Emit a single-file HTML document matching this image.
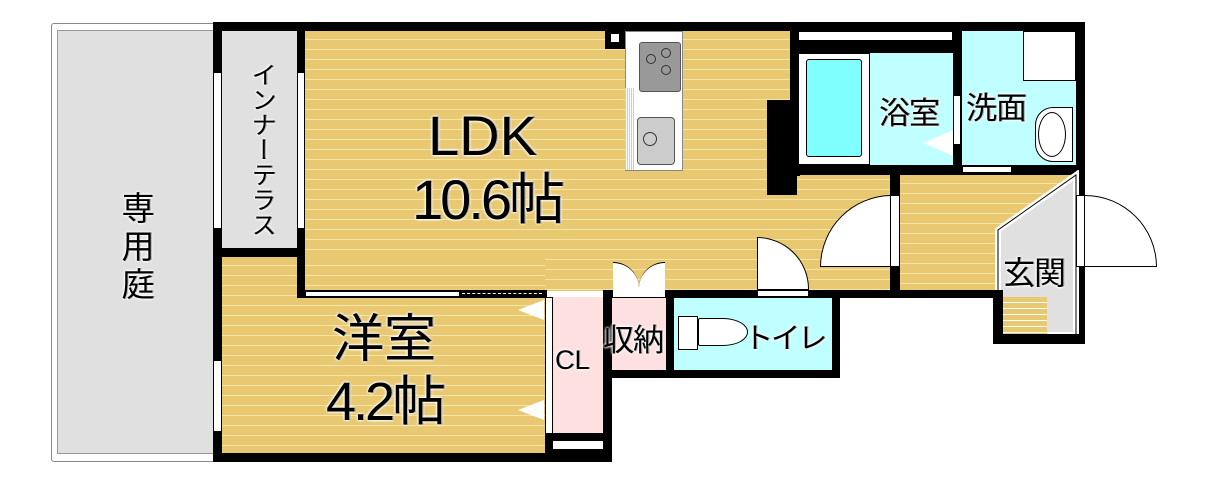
<!DOCTYPE html>
<html><head><meta charset="utf-8"><style>
body{margin:0;width:1212px;height:479px;background:#fff;position:relative;overflow:hidden;font-family:"Liberation Sans","Noto Sans CJK JP",sans-serif}
div{position:absolute;box-sizing:border-box}
.b{background:#000}
.y{background:repeating-linear-gradient(180deg,#e8c870 0 8px,#f6e3a6 8px 9px,#e8c870 9px 10px)}
.t{color:#000;text-shadow:0 0 3px #fff,0 0 3px #fff,0 0 2px #fff,1px 0 0 #000;white-space:nowrap}
.w{background:#fff;border:1px solid #000}
</style></head><body>
<!-- garden -->
<div style="left:51px;top:23px;width:170px;height:439px;border:1px solid #888;border-radius:3px;background:#fff"></div>
<div style="left:57px;top:30px;width:160px;height:424px;background:#e0e0e0;border:1px solid #999"></div>
<div class="t" style="left:118px;top:190px;font-size:33px;line-height:38px;width:40px;text-align:center">専<br>用<br>庭</div>
<!-- yellows first -->
<div class="y" style="left:305px;top:31px;width:590px;height:260px"></div>
<div class="y" style="left:222px;top:257px;width:323px;height:196px"></div>
<div class="y" style="left:900px;top:175px;width:176px;height:115px"></div>
<!-- outer walls -->
<div class="b" style="left:213px;top:22px;width:872px;height:9px"></div>
<div class="b" style="left:213px;top:22px;width:9px;height:440px"></div>
<div class="b" style="left:213px;top:453px;width:398px;height:9px"></div>
<div class="b" style="left:1076px;top:22px;width:9px;height:322px"></div>
<!-- terrace -->
<div style="left:222px;top:31px;width:76px;height:218px;background:#e0e0e0"></div>
<div class="b" style="left:213px;top:248px;width:92px;height:9px"></div>
<div class="b" style="left:297px;top:31px;width:8px;height:267px"></div>
<div class="t" style="left:243px;top:62px;font-size:25px;line-height:26px;width:32px;text-align:center;writing-mode:vertical-rl">インナーテラス</div>
<!-- windows -->
<div class="w" style="left:213px;top:72px;width:9px;height:157px"></div>
<div class="w" style="left:297px;top:72px;width:8px;height:157px"></div>
<div class="w" style="left:213px;top:360px;width:9px;height:72px"></div>
<!-- partition LDK/洋室 -->
<div class="b" style="left:297px;top:290px;width:250px;height:8px"></div>
<div class="w" style="left:305px;top:291px;width:155px;height:6px"></div>
<div style="left:462px;top:293px;width:80px;height:2px;border-top:1px dashed #fff"></div>
<div class="b" style="left:605px;top:31px;width:20px;height:18px"></div>
<div style="left:611px;top:34px;width:8px;height:8px;background:#fff"></div>
<!-- kitchen -->
<div style="left:625px;top:31px;width:58px;height:140px;background:#fff;border:1px solid #888"></div>
<div style="left:625px;top:88px;width:9px;height:82px;background:repeating-linear-gradient(90deg,#ccc 0 1px,#fff 1px 2px)"></div>
<div style="left:639px;top:42px;width:42px;height:50px;background:#999;border:1px solid #555;border-radius:3px"></div>
<div style="left:646px;top:54px;width:10px;height:10px;border:1px solid #333;border-radius:50%"></div>
<div style="left:661px;top:48px;width:10px;height:10px;border:1px solid #333;border-radius:50%"></div>
<div style="left:661px;top:65px;width:10px;height:10px;border:1px solid #333;border-radius:50%"></div>
<div style="left:637px;top:117px;width:38px;height:48px;background:#ccc;border:1px solid #555;border-radius:4px"></div>
<div style="left:643px;top:132px;width:14px;height:14px;border:1px solid #333;border-radius:50%"></div>
<div class="t" style="left:428px;top:106px;font-size:56px;line-height:60px">LDK</div>
<div class="t" style="left:412px;top:168px;font-size:56px;line-height:64px;letter-spacing:-3px">10.6帖</div>
<div class="t" style="left:332px;top:312px;font-size:52px;line-height:56px">洋室</div>
<div class="t" style="left:326px;top:370px;font-size:54px;line-height:64px;letter-spacing:-3px">4.2帖</div>
<!-- CL -->
<div style="left:545px;top:297px;width:60px;height:137px;background:#ffe0e0"></div>
<div class="w" style="left:545px;top:297px;width:8px;height:137px"></div>
<div class="b" style="left:545px;top:433px;width:66px;height:29px"></div>
<div style="left:553px;top:441px;width:50px;height:8px;background:#fff"></div>
<div class="b" style="left:603px;top:297px;width:9px;height:165px"></div>
<div class="t" style="left:555px;top:345px;font-size:27px">CL</div>
<div style="left:518px;top:300px;width:0;height:0;border-top:10px solid transparent;border-bottom:10px solid transparent;border-right:26px solid #fff"></div>
<div style="left:518px;top:400px;width:0;height:0;border-top:10px solid transparent;border-bottom:10px solid transparent;border-right:26px solid #fff"></div>
<!-- LDK bottom wall right -->
<div class="b" style="left:603px;top:290px;width:398px;height:8px"></div>
<div style="left:613px;top:290px;width:52px;height:7px;background:#fff"></div>
<div style="left:757px;top:290px;width:52px;height:7px;background:#fff;border:1px solid #000"></div>
<!-- 収納 / toilet -->
<div style="left:612px;top:298px;width:56px;height:72px;background:#ffe0e0"></div>
<div class="b" style="left:666px;top:298px;width:8px;height:80px"></div>
<div style="left:674px;top:298px;width:158px;height:72px;background:#c0ffff"></div>
<div class="b" style="left:603px;top:370px;width:237px;height:8px"></div>
<div class="b" style="left:832px;top:290px;width:8px;height:88px"></div>
<div class="t" style="left:603px;top:315px;font-size:31px;letter-spacing:-1px">収納</div>
<div style="left:678px;top:316px;width:20px;height:34px;background:#fff;border:1px solid #000"></div>
<div style="left:698px;top:318px;width:50px;height:28px;background:#fff;border:1px solid #000;border-radius:2px 50% 50% 2px"></div>
<div class="t" style="left:744px;top:315px;font-size:29px;letter-spacing:-2px">トイレ</div>
<!-- door arcs -->
<div style="left:757px;top:237px;width:52px;height:53px;background:#fff;border:1px solid #000;border-radius:0 52px 0 0"></div>
<div style="left:820px;top:195px;width:72px;height:72px;background:#fff;border:1px solid #000;border-radius:72px 0 0 0"></div>
<div style="left:613px;top:262px;width:26px;height:28px;background:#fff;border-top:1px solid #000;border-radius:0 26px 0 0"></div>
<div style="left:639px;top:262px;width:26px;height:28px;background:#fff;border-top:1px solid #000;border-radius:26px 0 0 0"></div>
<!-- bath block -->
<div class="b" style="left:767px;top:100px;width:30px;height:95px"></div>
<div class="b" style="left:790px;top:31px;width:10px;height:145px"></div>
<div style="left:798px;top:31px;width:155px;height:10px;background:#fff;border:1px solid #000"></div>
<div class="b" style="left:798px;top:41px;width:160px;height:12px"></div>
<div style="left:798px;top:53px;width:72px;height:112px;background:#fff;border:1px solid #000"></div>
<div style="left:806px;top:59px;width:56px;height:98px;background:#80ffff;border:1px solid #000;border-radius:3px"></div>
<div style="left:870px;top:53px;width:84px;height:112px;background:#c0ffff"></div>
<div class="t" style="left:879px;top:88px;font-size:31px;letter-spacing:-1px">浴室</div>
<div style="left:923px;top:130px;width:0;height:0;border-top:13px solid transparent;border-bottom:13px solid transparent;border-right:30px solid #fff"></div>
<div class="b" style="left:953px;top:31px;width:9px;height:144px"></div>
<div style="left:953px;top:95px;width:8px;height:50px;background:#fff;border:1px solid #000"></div>
<div style="left:962px;top:31px;width:114px;height:134px;background:#c0ffff"></div>
<div style="left:1023px;top:31px;width:53px;height:50px;background:#fff;border:1px solid #000"></div>
<div class="t" style="left:966px;top:83px;font-size:31px;letter-spacing:-1px">洗面</div>
<div style="left:1035px;top:107px;width:38px;height:55px;background:#fff;border:1px solid #000;border-radius:18px 0 0 18px"></div>
<div style="left:1038px;top:112px;width:28px;height:45px;border:1px solid #000;border-radius:50%"></div>
<div class="b" style="left:790px;top:165px;width:295px;height:10px"></div>
<div style="left:962px;top:166px;width:50px;height:7px;background:#fff;border:1px solid #000"></div>
<!-- hall -->
<div class="b" style="left:890px;top:175px;width:10px;height:123px"></div>
<div style="left:890px;top:195px;width:10px;height:72px;background:#fff;border:1px solid #000"></div>
<!-- genkan -->
<svg style="position:absolute;left:990px;top:170px" width="90" height="175"><polygon points="86,5 86,165 8,165 8,60" fill="#e0e0e0" stroke="#fff" stroke-width="6"/><polygon points="86,5 86,165 8,165 8,60" fill="none" stroke="#000" stroke-width="1"/></svg>
<div class="b" style="left:993px;top:290px;width:10px;height:54px"></div>
<div class="b" style="left:993px;top:334px;width:92px;height:10px"></div>
<div style="left:1003px;top:297px;width:44px;height:37px;background:repeating-linear-gradient(180deg,#e8c870 0 5px,#fff 5px 6px)"></div>
<div class="t" style="left:1003px;top:248px;font-size:32px;letter-spacing:-1px">玄関</div>
<div style="left:1076px;top:195px;width:9px;height:72px;background:#fff;border:1px solid #000"></div>
<div style="left:1085px;top:195px;width:72px;height:72px;background:#fff;border:1px solid #000;border-left:none;border-radius:0 72px 0 0"></div>
</body></html>
